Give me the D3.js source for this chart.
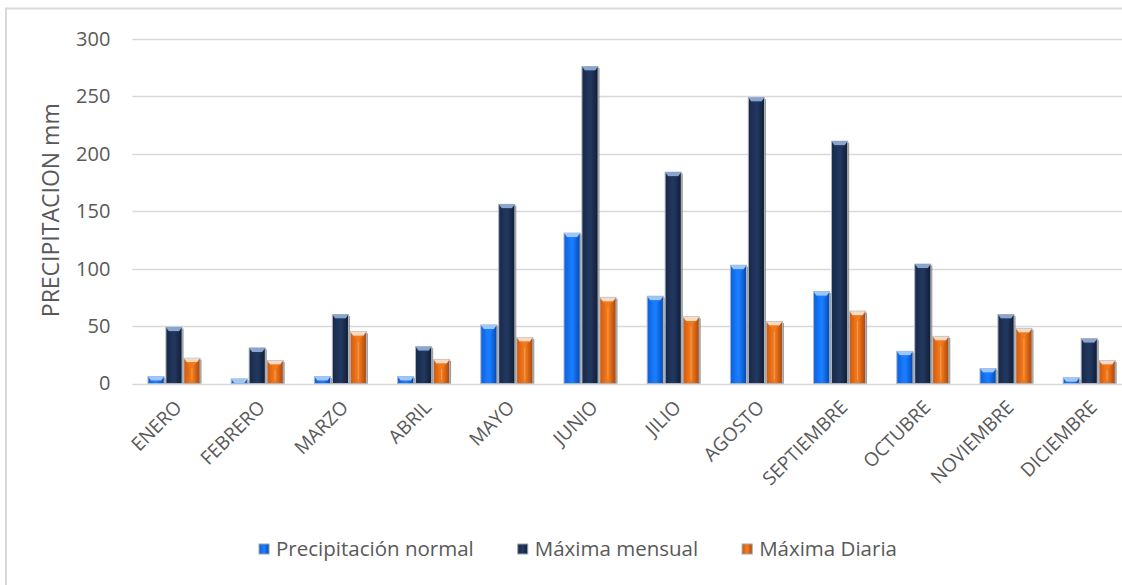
<!DOCTYPE html>
<html>
<head>
<meta charset="utf-8">
<script src="https://cdn.jsdelivr.net/npm/d3@7"></script>
<style>
  html, body { margin: 0; padding: 0; background: #ffffff; }
  svg { display: block; font-family: "Open Sans", Lato, sans-serif; }
</style>
</head>
<body>
<svg id="chart" width="1122" height="585"></svg>
<script>
// Monthly precipitation (mm)
const months = ["ENERO", "FEBRERO", "MARZO", "ABRIL", "MAYO", "JUNIO",
                "JILIO", "AGOSTO", "SEPTIEMBRE", "OCTUBRE", "NOVIEMBRE", "DICIEMBRE"];
const seriesNames = ["Precipitación normal", "Máxima mensual", "Máxima Diaria"];
const precipNormal  = [6, 4, 6, 6, 51, 131, 76, 103, 80, 28, 13, 5];
const maxMensual    = [49, 31, 60, 32, 156, 276, 184, 249, 211, 104, 60, 39];
const maxDiaria     = [22, 20, 45, 21, 40, 75, 58, 54, 63, 41, 48, 20];
const yTicks = [0, 50, 100, 150, 200, 250, 300];
const yTitle = "PRECIPITACION mm";

const seriesValues = [precipNormal, maxMensual, maxDiaria];

// Per-series bevel palette: body edge, body centre, top cap, shadow edge
const palette = [
  { edge: "#0a5fe0", mid: "#1a7dff", cap: "#9cc8ff", dark: "#0448b0" },
  { edge: "#172847", mid: "#22375f", cap: "#8aa6d0", dark: "#0f1c33" },
  { edge: "#d2580c", mid: "#f27a1c", cap: "#f6dcc4", dark: "#a9460a" }
];

const textColor = "#595959";

const svg = d3.select("#chart");
const defs = svg.append("defs");

palette.forEach((p, i) => {
  const g = defs.append("linearGradient")
    .attr("id", "bar-grad-" + i)
    .attr("x1", "0%").attr("x2", "100%").attr("y1", "0%").attr("y2", "0%");
  g.append("stop").attr("offset", "0%").attr("stop-color", p.edge);
  g.append("stop").attr("offset", "45%").attr("stop-color", p.mid);
  g.append("stop").attr("offset", "55%").attr("stop-color", p.mid);
  g.append("stop").attr("offset", "100%").attr("stop-color", p.dark);
});

// Outer chart frame
svg.append("path")
  .attr("d", "M6,585 V8.5 H1122")
  .attr("fill", "none")
  .attr("stroke", "#d9d9d9")
  .attr("stroke-width", 2);

const plot = { left: 132.4, right: 1130.8, top: 39, bottom: 383.5 };

const x0 = d3.scaleBand()
  .domain(months)
  .range([plot.left, plot.right])
  .paddingInner(0.375)
  .paddingOuter(0.1875);

const x1 = d3.scaleBand()
  .domain(d3.range(seriesNames.length))
  .range([0, x0.bandwidth()])
  .paddingInner(0.1);

const y = d3.scaleLinear()
  .domain([0, 300])
  .range([plot.bottom, plot.top]);

// Horizontal gridlines
svg.append("g")
  .selectAll("line")
  .data(yTicks)
  .join("line")
  .attr("x1", plot.left)
  .attr("x2", 1122)
  .attr("y1", d => Math.round(y(d)) + 0.5)
  .attr("y2", d => Math.round(y(d)) + 0.5)
  .attr("stroke", "#d9d9d9")
  .attr("stroke-width", 1.5);

// Y axis tick labels
const yAxis = d3.axisLeft(y).tickValues(yTicks).tickSize(0).tickPadding(0);
const yAxisG = svg.append("g")
  .attr("transform", `translate(${plot.left - 22},0)`)
  .call(yAxis);
yAxisG.select(".domain").remove();
yAxisG.selectAll("text")
  .attr("fill", textColor)
  .style("font-size", "20px")
  .style("font-family", "'Open Sans', sans-serif");

// Y axis title
svg.append("text")
  .attr("transform", `translate(59,${(plot.top + plot.bottom) / 2 - 1}) rotate(-90)`)
  .attr("text-anchor", "middle")
  .attr("fill", textColor)
  .style("font-size", "23px")
  .text(yTitle);

// X axis category labels
const xAxis = d3.axisBottom(x0).tickSize(0).tickPadding(0);
const xAxisG = svg.append("g")
  .attr("transform", `translate(0,${plot.bottom})`)
  .call(xAxis);
xAxisG.select(".domain").remove();
xAxisG.selectAll("text")
  .attr("fill", textColor)
  .style("font-size", "19px")
  .style("font-family", "'Open Sans', sans-serif")
  .attr("text-anchor", "end")
  .attr("dy", null)
  .attr("y", null)
  .attr("transform", "translate(9,25) rotate(-45)");

// Bars
const groups = svg.append("g")
  .selectAll("g")
  .data(months)
  .join("g")
  .attr("transform", d => `translate(${x0(d)},0)`);

const bars = groups.selectAll("g.bar")
  .data((m, mi) => seriesValues.map((vals, si) => ({ si, v: vals[mi] })))
  .join("g")
  .attr("class", "bar");

const bw = x1.bandwidth();

// dark shadow on the right side
bars.append("rect")
  .attr("x", d => x1(d.si) + 1.5)
  .attr("y", d => y(d.v) + 1.5)
  .attr("width", bw)
  .attr("height", d => y(0) - y(d.v) - 1.5)
  .attr("fill", "#4a4a4a")
  .attr("opacity", 0.55);

// bar body
bars.append("rect")
  .attr("x", d => x1(d.si))
  .attr("y", d => y(d.v))
  .attr("width", bw)
  .attr("height", d => y(0) - y(d.v))
  .attr("fill", d => `url(#bar-grad-${d.si})`)
  .attr("stroke", "#aeb6c0")
  .attr("stroke-width", 1);

// bevelled top cap
bars.append("path")
  .attr("d", d => {
    const x = x1(d.si), t = y(d.v), h = Math.min(4, y(0) - y(d.v));
    return `M${x},${t} H${x + bw} L${x + bw - 3},${t + h} H${x + 3} Z`;
  })
  .attr("fill", d => palette[d.si].cap);

// inner bevel notch on the cap
bars.append("path")
  .attr("d", d => {
    const x = x1(d.si), t = y(d.v), h = Math.min(4, y(0) - y(d.v));
    const c = x + bw / 2;
    return `M${x + 3},${t + h} L${c},${t + h + 5} L${x + bw - 3},${t + h} Z`;
  })
  .attr("fill", d => palette[d.si].mid)
  .attr("opacity", d => (y(0) - y(d.v) > 14 ? 0.8 : 0));

// inner vertical bevel line
bars.append("line")
  .attr("x1", d => x1(d.si) + bw / 2)
  .attr("x2", d => x1(d.si) + bw / 2)
  .attr("y1", d => y(d.v) + 10)
  .attr("y2", d => y(0) - 4)
  .attr("stroke", d => palette[d.si].cap)
  .attr("stroke-width", 1)
  .attr("opacity", d => (d.si === 2 && y(0) - y(d.v) > 20 ? 0.35 : 0));

// Legend
const legend = svg.append("g").attr("transform", "translate(0,549)");
const items = legend.selectAll("g")
  .data(seriesNames)
  .join("g");
items.append("rect")
  .attr("x", 0).attr("y", -5)
  .attr("width", 10).attr("height", 10)
  .attr("fill", (d, i) => `url(#bar-grad-${i})`)
  .attr("stroke", "#9aa3ae")
  .attr("stroke-width", 1);
items.append("text")
  .attr("x", 17)
  .attr("dy", "0.35em")
  .attr("fill", textColor)
  .style("font-size", "20.5px")
  .text(d => d);

const widths = [];
items.each(function () { widths.push(this.getBBox().width); });
const gap = 44;
const total = d3.sum(widths) + gap * (widths.length - 1);
let cx = 578 - total / 2;
items.attr("transform", (d, i) => {
  const t = `translate(${cx},0)`;
  cx += widths[i] + gap;
  return t;
});
</script>
</body>
</html>
